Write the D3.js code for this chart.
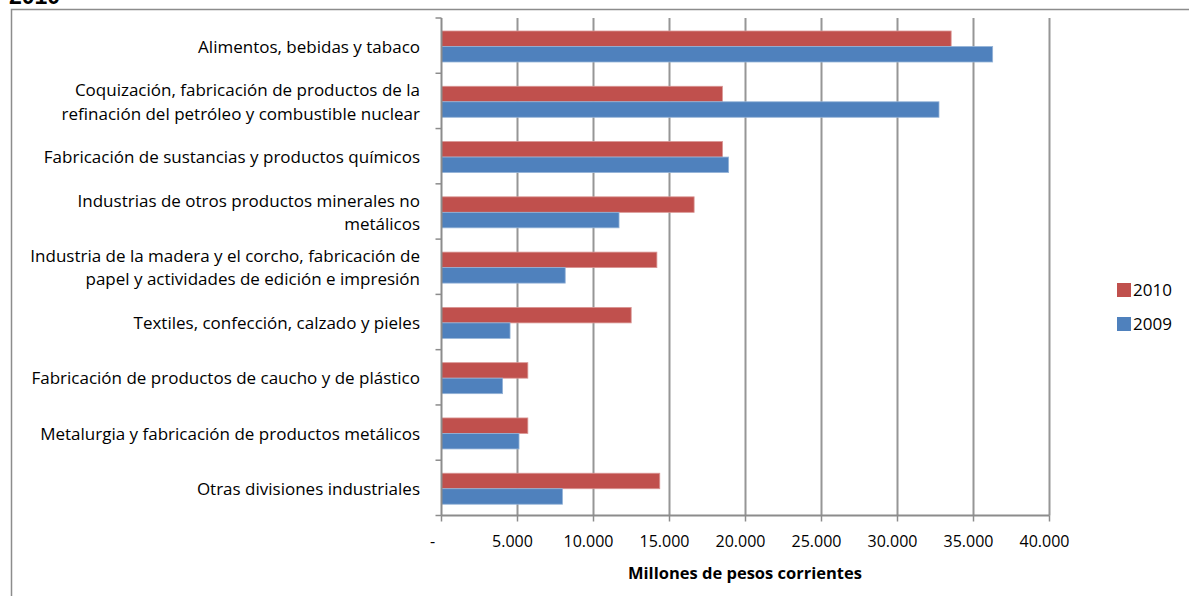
<!DOCTYPE html>
<html>
<head>
<meta charset="utf-8">
<script src="https://cdn.jsdelivr.net/npm/d3@7"></script>
<style>
  html, body { margin: 0; padding: 0; background: #fff; }
  svg { display: block; }
  text { font-family: "Open Sans", Lato, sans-serif; fill: #000; }
</style>
</head>
<body>
<svg id="chart" width="1189" height="596"></svg>
<script>
// Industrial divisions (label lines)
const categories = [
  ["Alimentos, bebidas y tabaco"],
  ["Coquización, fabricación de productos de la", "refinación del petróleo y combustible nuclear"],
  ["Fabricación de sustancias y productos químicos"],
  ["Industrias de otros productos minerales no", "metálicos"],
  ["Industria de la madera y el corcho, fabricación de", "papel y actividades de edición e impresión"],
  ["Textiles, confección, calzado y pieles"],
  ["Fabricación de productos de caucho y de plástico"],
  ["Metalurgia y fabricación de productos metálicos"],
  ["Otras divisiones industriales"]
];

// Millones de pesos corrientes
const values2010 = [33530, 18480, 18490, 16620, 14170, 12480, 5680, 5680, 14360];
const values2009 = [36260, 32730, 18890, 11680, 8140, 4510, 4020, 5100, 7960];

const seriesNames = ["2010", "2009"];
const seriesColors = ["#C0504D", "#4F81BD"];
const seriesStrokes = ["#D99694", "#95B3D7"];

const xTicks = [0, 5000, 10000, 15000, 20000, 25000, 30000, 35000, 40000];
const xTickLabels = ["-", "5.000", "10.000", "15.000", "20.000", "25.000", "30.000", "35.000", "40.000"];

const svg = d3.select("#chart");

// outer chart frame
svg.append("rect")
  .attr("x", 11.5).attr("y", 9.5)
  .attr("width", 1200).attr("height", 620)
  .attr("fill", "none").attr("stroke", "#8c8c8c").attr("stroke-width", 1.5);

// heading (runs above the page top)
svg.append("text")
  .attr("x", 9).attr("y", 4)
  .style("font-family", "'Liberation Sans', Arial, sans-serif")
  .style("font-weight", "bold").style("font-size", "23px")
  .text("2010");

const x = d3.scaleLinear().domain([0, 40000]).range([441.5, 1049.5]);
const y = d3.scaleBand().domain(d3.range(categories.length)).range([18, 515.5]).padding(0);

const barH = 15.5;
const barOffset = 13; // gap from band top to first bar

// vertical gridlines
svg.append("g").selectAll("line")
  .data(xTicks.slice(1))
  .join("line")
  .attr("x1", d => x(d)).attr("x2", d => x(d))
  .attr("y1", y.range()[0]).attr("y2", y.range()[1])
  .attr("stroke", "#969696").attr("stroke-width", 2);

// bars
const series = [values2010, values2009];
series.forEach((vals, s) => {
  svg.append("g").selectAll("rect")
    .data(vals)
    .join("rect")
    .attr("x", x(0))
    .attr("y", (d, i) => y(i) + barOffset + s * barH)
    .attr("width", d => x(d) - x(0))
    .attr("height", barH)
    .attr("fill", seriesColors[s])
    .attr("stroke", seriesStrokes[s])
    .attr("stroke-width", 0.8);
});

// category axis
const yAxis = svg.append("g");
yAxis.append("line")
  .attr("x1", x(0)).attr("x2", x(0))
  .attr("y1", y.range()[0]).attr("y2", y.range()[1])
  .attr("stroke", "#8c8c8c").attr("stroke-width", 2);
yAxis.selectAll("line.tick")
  .data(d3.range(categories.length + 1))
  .join("line")
  .attr("class", "tick")
  .attr("x1", x(0) - 6).attr("x2", x(0))
  .attr("y1", i => y.range()[0] + i * y.bandwidth())
  .attr("y2", i => y.range()[0] + i * y.bandwidth())
  .attr("stroke", "#8c8c8c").attr("stroke-width", 1.5);

const lineGap = 23.5;
yAxis.selectAll("text")
  .data(categories)
  .join("text")
  .attr("text-anchor", "end")
  .style("font-size", "17px")
  .each(function (lines, i) {
    const cy = y(i) + y.bandwidth() / 2 + 1;
    const t0 = cy - (lines.length - 1) * lineGap / 2;
    d3.select(this).selectAll("tspan")
      .data(lines)
      .join("tspan")
      .attr("x", 420)
      .attr("y", (d, k) => t0 + k * lineGap)
      .attr("dy", "0.35em")
      .text(d => d);
  });

// value axis
const xAxis = svg.append("g");
xAxis.append("line")
  .attr("x1", x(0)).attr("x2", x(40000))
  .attr("y1", y.range()[1]).attr("y2", y.range()[1])
  .attr("stroke", "#8c8c8c").attr("stroke-width", 2);
xAxis.selectAll("line.tick")
  .data(xTicks)
  .join("line")
  .attr("class", "tick")
  .attr("x1", d => x(d)).attr("x2", d => x(d))
  .attr("y1", y.range()[1]).attr("y2", y.range()[1] + 6)
  .attr("stroke", "#8c8c8c").attr("stroke-width", 1.5);
xAxis.selectAll("text")
  .data(xTicks)
  .join("text")
  .attr("x", (d, i) => i === 0 ? x(d) - 9 : x(d) - 5)
  .attr("y", 541)
  .attr("dy", "0.35em")
  .attr("text-anchor", "middle")
  .style("font-size", "16px")
  .text((d, i) => xTickLabels[i]);

svg.append("text")
  .attr("x", 745).attr("y", 573)
  .attr("dy", "0.35em")
  .attr("text-anchor", "middle")
  .style("font-size", "16.5px").style("font-weight", "bold")
  .text("Millones de pesos corrientes");

// legend
const legend = svg.append("g");
seriesNames.forEach((name, s) => {
  const ly = 290 + s * 34;
  legend.append("rect")
    .attr("x", 1117).attr("y", ly - 7)
    .attr("width", 14).attr("height", 14)
    .attr("fill", seriesColors[s]);
  legend.append("text")
    .attr("x", 1133).attr("y", ly)
    .attr("dy", "0.35em")
    .style("font-size", "17px")
    .text(name);
});
</script>
</body>
</html>
